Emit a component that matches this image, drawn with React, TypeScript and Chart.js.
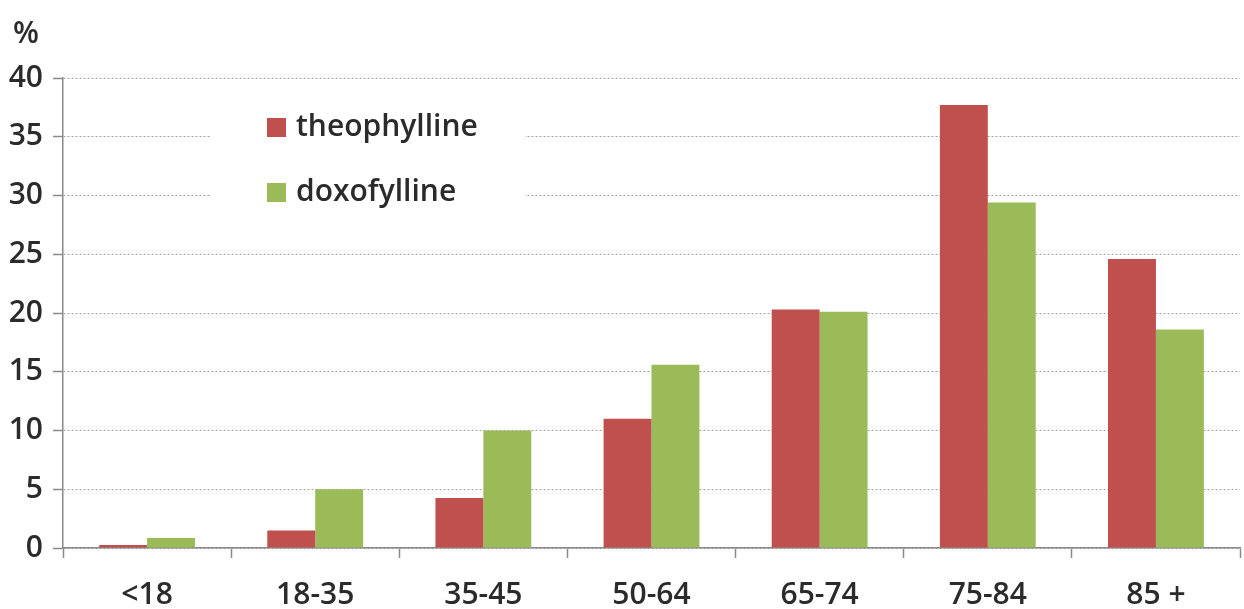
import React, { useEffect, useRef } from "react";
import { Chart, registerables } from "chart.js";

Chart.register(...registerables);

const categories = ["<18", "18-35", "35-45", "50-64", "65-74", "75-84", "85 +"];
const theophylline = [0.25, 1.5, 4.25, 11.0, 20.3, 37.7, 24.6];
const doxofylline = [0.85, 5.0, 10.0, 15.6, 20.1, 29.4, 18.6];
const seriesNames = ["theophylline", "doxofylline"];
const seriesColors = ["#C0504D", "#9BBB59"];
const yUnit = "%";

const FONT = "'Open Sans', 'DejaVu Sans', sans-serif";
const TEXT = "#2b2b2b";
const AXIS = "#8a8a8a";
const SIZE = 30;
const WEIGHT = "600";

const overlayPlugin = {
  id: "overlay",
  afterDraw(chart: any) {
    const ctx = chart.ctx;
    ctx.save();
    ctx.fillStyle = TEXT;
    ctx.font = `${WEIGHT} ${SIZE}px ${FONT}`;
    ctx.textAlign = "left";
    ctx.textBaseline = "alphabetic";
    ctx.fillText(yUnit, 13, 43);
    ctx.fillStyle = "#ffffff";
    ctx.fillRect(210, 92, 315, 130);
    const rows = [127.5, 192.5];
    chart.data.datasets.forEach((ds: any, i: number) => {
      const cy = rows[i];
      ctx.fillStyle = ds.backgroundColor;
      ctx.fillRect(267, cy - 9.5, 19, 19);
      ctx.fillStyle = TEXT;
      ctx.font = `${WEIGHT} ${SIZE}px ${FONT}`;
      ctx.textBaseline = "middle";
      ctx.fillText(ds.label, 296, cy);
    });
    ctx.restore();
  },
};

export default function App() {
  const ref = useRef<HTMLCanvasElement | null>(null);
  useEffect(() => {
    document.body.style.margin = "0";
    const canvas = ref.current!;
    const chart = new Chart(canvas, {
      type: "bar",
      data: {
        labels: categories,
        datasets: [
          { label: seriesNames[0], data: theophylline, backgroundColor: seriesColors[0] },
          { label: seriesNames[1], data: doxofylline, backgroundColor: seriesColors[1] },
        ],
      },
      options: {
        responsive: false,
        animation: false,
        devicePixelRatio: 1,
        layout: { padding: { top: 78, right: 4, bottom: 0, left: 0 } },
        datasets: {
          bar: { categoryPercentage: 0.57, barPercentage: 1.0, borderWidth: 0 },
        },
        plugins: {
          legend: { display: false },
          tooltip: { enabled: false },
          title: { display: false },
        },
        scales: {
          x: {
            grid: {
              display: true,
              drawOnChartArea: false,
              drawTicks: true,
              tickLength: 10,
              tickColor: AXIS,
              tickWidth: 1.5,
              offset: true,
            },
            border: { display: true, color: AXIS, width: 1.5 },
            ticks: {
              color: TEXT,
              font: { family: FONT, size: SIZE, weight: WEIGHT },
              padding: 19,
              maxRotation: 0,
              autoSkip: false,
            },
            afterFit(scale: any) {
              scale.height = 61;
            },
          },
          y: {
            min: 0,
            max: 40,
            ticks: {
              stepSize: 5,
              color: TEXT,
              font: { family: FONT, size: SIZE, weight: WEIGHT },
              padding: 10,
            },
            grid: {
              color: "#a0a0a0",
              lineWidth: 1,
              drawTicks: true,
              tickLength: 10,
              tickColor: AXIS,
              tickWidth: 1.5,
              tickBorderDash: [],
            },
            border: { display: true, color: AXIS, width: 1.5, dash: [2, 2] },
            afterFit(scale: any) {
              scale.width = 63;
            },
          },
        },
      },
      plugins: [overlayPlugin],
    } as any);
    return () => chart.destroy();
  }, []);
  return (
    <div style={{ width: 1244, height: 609 }}>
      <canvas ref={ref} width={1244} height={609} style={{ display: "block" }} />
    </div>
  );
}
